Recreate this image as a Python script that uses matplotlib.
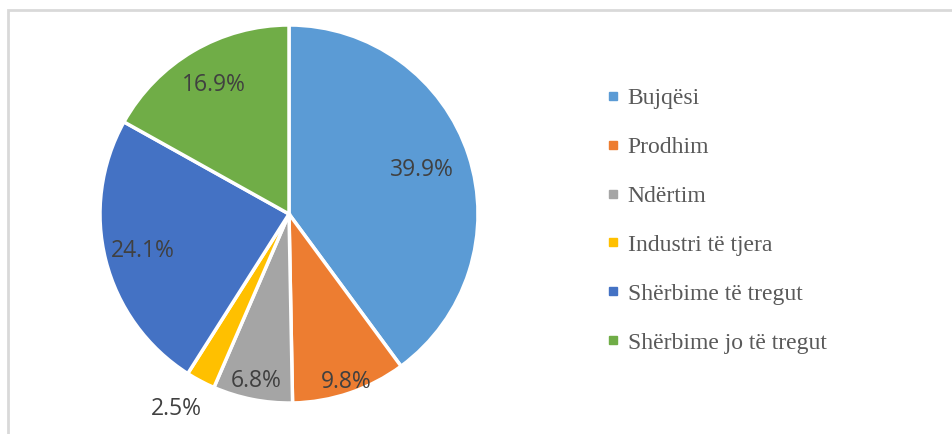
import numpy as np
import matplotlib
matplotlib.use("Agg")
import matplotlib.pyplot as plt
from matplotlib.lines import Line2D
from matplotlib.patches import Rectangle

# ---------------- DATA ----------------
sectors = ["Bujqësi", "Prodhim", "Ndërtim", "Industri të tjera",
           "Shërbime të tregut", "Shërbime jo të tregut"]
shares = [39.9, 9.8, 6.8, 2.5, 24.1, 16.9]
colors = ["#5B9BD5", "#ED7D31", "#A5A5A5", "#FFC000", "#4472C4", "#70AD47"]

# radial distance of each percentage label (fraction of radius)
label_dist = [0.74, 0.94, 0.90, 1.165, 0.80, 0.79]

# ---------------- FIGURE ----------------
fig = plt.figure(figsize=(9.52, 4.34), dpi=100)

# light grey frame of the chart area
fig.patches.append(Rectangle((8 / 952, -0.1), 1.1, (434 - 10) / 434 + 0.1,
                             transform=fig.transFigure, fill=False,
                             edgecolor="#D9D9D9", linewidth=2))

ax = fig.add_axes([100 / 952, 31 / 434, 378 / 952, 378 / 434])
wedges, _ = ax.pie(shares, colors=colors, startangle=90, counterclock=False,
                   radius=1.0,
                   wedgeprops=dict(edgecolor="white", linewidth=2.5))
ax.set_xlim(-1, 1)
ax.set_ylim(-1, 1)
ax.set_aspect("equal")
ax.axis("off")

# percentage labels
for w, val, d in zip(wedges, shares, label_dist):
    ang = np.deg2rad((w.theta1 + w.theta2) / 2)
    x, y = d * np.cos(ang), d * np.sin(ang)
    if d > 1:
        x -= 0.05  # outside label sits a bit further left
    ax.text(x, y, f"{val}%",
            ha="center", va="center", fontsize=16.5, color="#404040",
            family="Open Sans", clip_on=False)

# legend
handles = [Line2D([], [], marker="s", linestyle="none", markersize=6,
                  markerfacecolor=c, markeredgecolor=c) for c in colors]
fig.legend(handles, sectors, loc="upper left",
           bbox_to_anchor=(597 / 952, 1 - 78 / 434),
           frameon=False, handlelength=0.55, handletextpad=0.35,
           labelspacing=1.16, borderaxespad=0,
           prop={"family": "Liberation Serif", "size": 17},
           labelcolor="#595959")

fig.savefig("out.png", dpi=100)
